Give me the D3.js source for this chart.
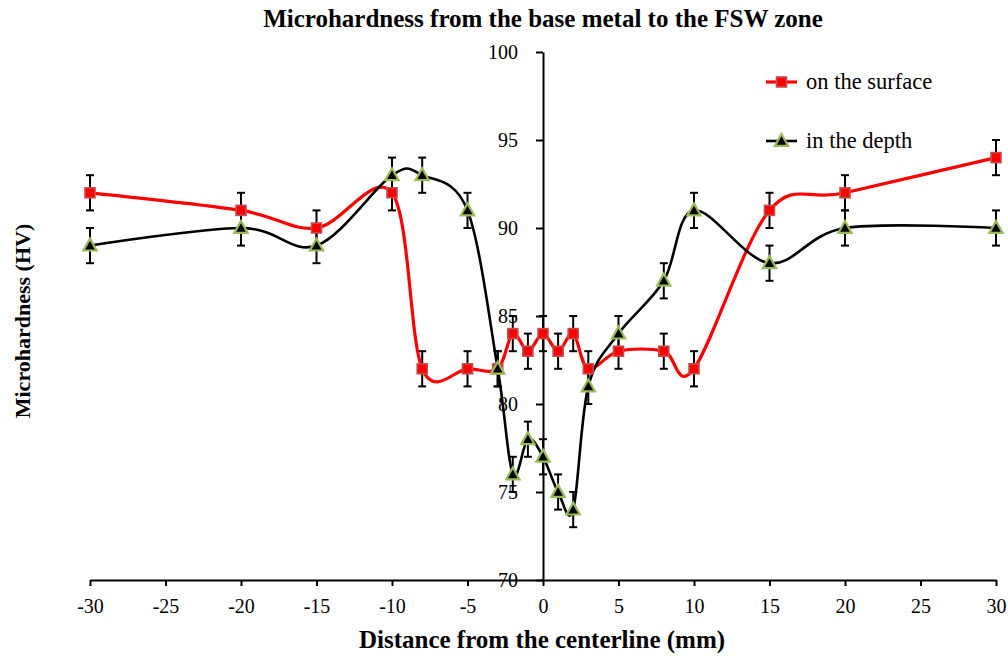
<!DOCTYPE html>
<html><head><meta charset="utf-8">
<script src="https://cdn.jsdelivr.net/npm/d3@7/dist/d3.min.js"></script>
<style>body{margin:0;background:#fff}svg{display:block}svg text{font-family:"Liberation Serif","Times New Roman",serif !important}</style>
</head><body><svg id="c" width="1008" height="656"></svg>
<script>
const distances = [-30,-20,-15,-10,-8,-5,-3,-2,-1,0,1,2,3,5,8,10,15,20,30];
const surface = [92,91,90,92,82,82,82,84,83,84,83,84,82,83,83,82,91,92,94];
const depth = [89,90,89,93,93,91,82,76,78,77,75,74,81,84,87,91,88,90,90];
const errorBar = 1;
const xTicks = [-30,-25,-20,-15,-10,-5,0,5,10,15,20,25,30];
const yTicks = [70,75,80,85,90,95,100];
const seriesNames = ["on the surface","in the depth"];

const svg = d3.select("#c");
const x = d3.scaleLinear().domain([-30,30]).range([90,996]);
const y = d3.scaleLinear().domain([70,100]).range([580,52]);

svg.append("text").attr("x",543).attr("y",27).attr("text-anchor","middle")
  .attr("font-size",25).attr("font-weight","bold").text("Microhardness from the base metal to the FSW zone");
svg.append("text").attr("x",542).attr("y",648).attr("text-anchor","middle")
  .attr("font-size",25).attr("font-weight","bold").text("Distance from the centerline (mm)");
svg.append("text").attr("transform","translate(30,321) rotate(-90)").attr("text-anchor","middle")
  .attr("font-size",22).attr("font-weight","bold").text("Microhardness (HV)");

const xAxis = svg.append("g").attr("transform",`translate(0,${y(70)})`)
  .call(d3.axisBottom(x).tickValues(xTicks).tickFormat(d=>String(d)).tickSize(6).tickPadding(13).tickSizeOuter(0));
const yAxis = svg.append("g").attr("transform",`translate(${x(0)},0)`)
  .call(d3.axisLeft(y).tickValues(yTicks).tickFormat(d=>String(d)).tickSize(7).tickPadding(18).tickSizeOuter(0));
[xAxis,yAxis].forEach(a=>{
  a.select(".domain").attr("stroke","#000").attr("stroke-width",2);
  a.selectAll(".tick line").attr("stroke","#000").attr("stroke-width",2);
  a.selectAll(".tick text").attr("font-size",20).attr("fill","#000");
});

const line = d3.line().curve(d3.curveCatmullRom.alpha(0)).x(d=>x(d[0])).y(d=>y(d[1]));
const sData = distances.map((d,i)=>[d,surface[i]]);
const dData = distances.map((d,i)=>[d,depth[i]]);

function errBars(data){
  const g = svg.append("g").attr("stroke","#000").attr("stroke-width",2);
  data.forEach(d=>{
    const cx = x(d[0]);
    g.append("line").attr("x1",cx).attr("x2",cx).attr("y1",y(d[1]-errorBar)).attr("y2",y(d[1]+errorBar));
    g.append("line").attr("x1",cx-4).attr("x2",cx+4).attr("y1",y(d[1]-errorBar)).attr("y2",y(d[1]-errorBar));
    g.append("line").attr("x1",cx-4).attr("x2",cx+4).attr("y1",y(d[1]+errorBar)).attr("y2",y(d[1]+errorBar));
  });
}
errBars(sData); errBars(dData);

svg.append("path").datum(sData).attr("d",line).attr("fill","none").attr("stroke","#ff0000").attr("stroke-width",3.2);
svg.append("path").datum(dData).attr("d",line).attr("fill","none").attr("stroke","#000").attr("stroke-width",2.6);

function square(g,cx,cy){
  g.append("rect").attr("x",cx-5).attr("y",cy-5).attr("width",10).attr("height",10)
    .attr("fill","#ff0000").attr("stroke","#c0504d").attr("stroke-width",1.6);
}
function tri(g,cx,cy){
  const s=7;
  g.append("path").attr("d",`M${cx},${cy-s}L${cx+s*0.95},${cy+s*0.7}L${cx-s*0.95},${cy+s*0.7}Z`)
    .attr("fill","#000").attr("stroke","#9bbb59").attr("stroke-width",2.2);
}
const mk = svg.append("g");
sData.forEach(d=>square(mk,x(d[0]),y(d[1])));
dData.forEach(d=>tri(mk,x(d[0]),y(d[1])));

const lg = svg.append("g");
const legY = [82,141];
lg.append("line").attr("x1",766).attr("x2",797).attr("y1",legY[0]).attr("y2",legY[0]).attr("stroke","#ff0000").attr("stroke-width",3.2);
square(lg,781.5,legY[0]);
lg.append("line").attr("x1",766).attr("x2",797).attr("y1",legY[1]).attr("y2",legY[1]).attr("stroke","#000").attr("stroke-width",2.6);
tri(lg,781.5,legY[1]);
seriesNames.forEach((n,i)=>lg.append("text").attr("x",806).attr("y",legY[i]+7).attr("font-size",22.5).text(n));
</script></body></html>
